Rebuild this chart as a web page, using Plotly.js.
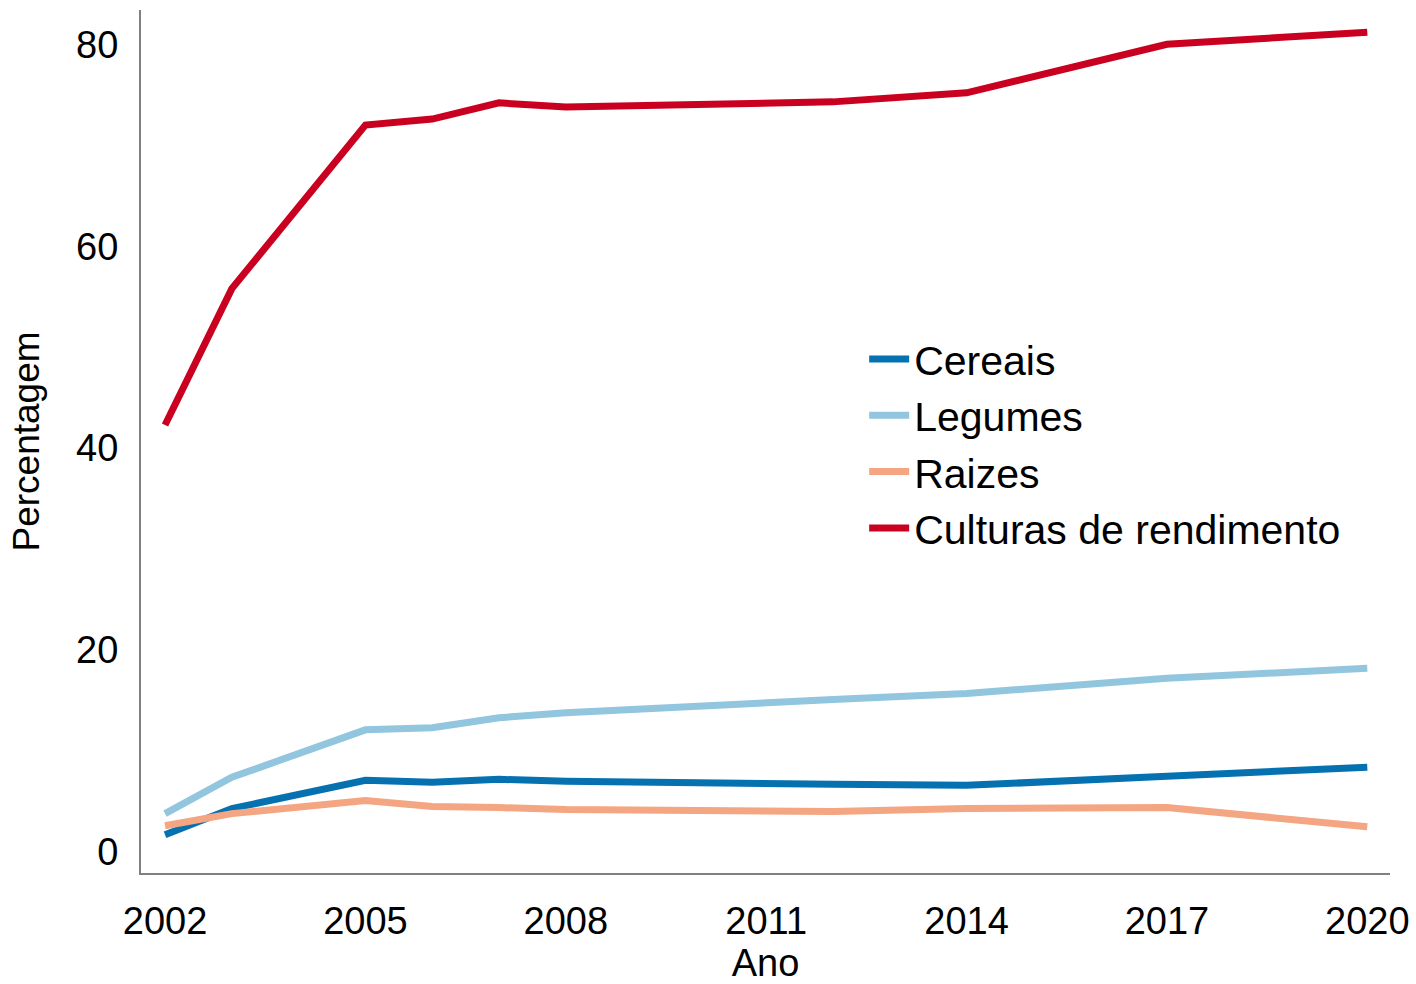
<!DOCTYPE html>
<html>
<head>
<meta charset="utf-8">
<script src="https://cdn.plot.ly/plotly-3.0.1.min.js"></script>
<style>html,body{margin:0;padding:0;background:#fff;}#chart{width:1416px;height:984px;}</style>
</head>
<body>
<div id="chart"></div>
<script>
const years = [2002, 2003, 2005, 2006, 2007, 2008, 2012, 2014, 2017, 2020];
const cereais = [1.7, 4.3, 7.1, 6.9, 7.2, 7.0, 6.7, 6.6, 7.5, 8.4];
const legumes = [3.8, 7.4, 12.1, 12.3, 13.3, 13.8, 15.1, 15.7, 17.2, 18.2];
const raizes = [2.6, 3.8, 5.1, 4.5, 4.4, 4.2, 4.0, 4.3, 4.4, 2.5];
const culturas = [42.3, 55.8, 72.0, 72.6, 74.2, 73.8, 74.3, 75.2, 80.0, 81.2];
const seriesNames = ["Cereais", "Legumes", "Raizes", "Culturas de rendimento"];
const seriesColors = ["#0571b0", "#92c5de", "#f4a582", "#ca0020"];
const xTicks = [2002, 2005, 2008, 2011, 2014, 2017, 2020];
const yTicks = [0, 20, 40, 60, 80];

const allSeries = [cereais, legumes, raizes, culturas];
const traces = allSeries.map((vals, i) => ({
  x: years,
  y: vals,
  type: "scatter",
  mode: "lines",
  name: seriesNames[i],
  legendgroup: "g" + i,
  line: {color: seriesColors[i], width: 7}
}));

const fontFam = "Liberation Sans, Arial, sans-serif";
const layout = {
  width: 1416,
  height: 984,
  margin: {l: 141, r: 26, t: 10, b: 111},
  paper_bgcolor: "#ffffff",
  plot_bgcolor: "#ffffff",
  font: {family: fontFam, size: 38, color: "#000000"},
  showlegend: true,
  legend: {
    x: 0.579, y: 0.634, xanchor: "left", yanchor: "top",
    traceorder: "grouped", tracegroupgap: 0,
    itemwidth: 40,
    font: {family: fontFam, size: 41, color: "#000000"},
    bgcolor: "rgba(0,0,0,0)"
  },
  xaxis: {
    range: [2001.64, 2020.34],
    tickmode: "array",
    tickvals: xTicks,
    ticktext: xTicks.map(String),
    showgrid: false,
    zeroline: false,
    showline: true,
    linecolor: "#808080",
    linewidth: 2,
    ticks: "",
    ticklabelstandoff: 13,
    tickfont: {family: fontFam, size: 38, color: "#000000"},
    title: {text: "Ano", font: {family: fontFam, size: 38, color: "#000000"}, standoff: 27}
  },
  yaxis: {
    range: [-2.08, 83.4],
    tickmode: "array",
    tickvals: yTicks,
    ticktext: yTicks.map(String),
    showgrid: false,
    zeroline: false,
    showline: true,
    linecolor: "#808080",
    linewidth: 2,
    ticks: "",
    ticklabelstandoff: 13,
    tickfont: {family: fontFam, size: 38, color: "#000000"},
    title: {text: "Percentagem", font: {family: fontFam, size: 37, color: "#000000"}, standoff: 25}
  }
};

Plotly.newPlot("chart", traces, layout, {displayModeBar: false, staticPlot: true});
</script>
</body>
</html>
